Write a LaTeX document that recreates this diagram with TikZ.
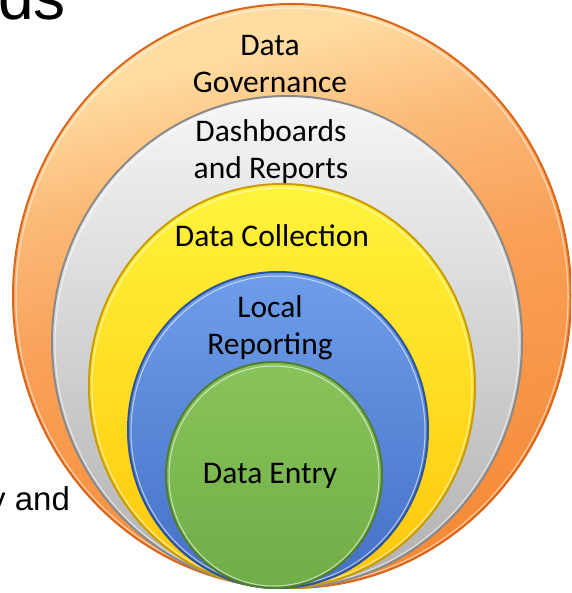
\documentclass[tikz,border=0pt]{standalone}
\usepackage{fontspec}
\setmainfont{Carlito}
\newfontfamily\slidefont{Liberation Sans}
\definecolor{orgA}{HTML}{FFDDA2}
\definecolor{orgL}{HTML}{FBBA78}
\definecolor{orgM}{HTML}{F9A058}
\definecolor{orgB}{HTML}{F68A36}
\definecolor{orgC}{HTML}{D9661B}
\definecolor{gryA}{HTML}{F6F6F6}
\definecolor{gryB}{HTML}{B0B0B0}
\definecolor{gryC}{HTML}{8A8A8A}
\definecolor{ylwA}{HTML}{FFF43C}
\definecolor{ylwB}{HTML}{FFC60A}
\definecolor{ylwC}{HTML}{C99C00}
\definecolor{bluA}{HTML}{6E9EEA}
\definecolor{bluB}{HTML}{4470C6}
\definecolor{bluC}{HTML}{2F5597}
\definecolor{grnA}{HTML}{88C45A}
\definecolor{grnB}{HTML}{70AD47}
\definecolor{grnC}{HTML}{507E32}
\pgfdeclareverticalshading{orgfade}{100bp}{color(0bp)=(orgB); color(25bp)=(orgB); color(50bp)=(orgM); color(62bp)=(orgL); color(72bp)=(orgA); color(100bp)=(orgA)}
\tikzset{
  ring/.style={line width=2pt},
  glow/.style={draw=white, opacity=0.6, line width=1pt},
  lbl/.style={font=\fontsize{31.5}{37}\selectfont, align=center, inner sep=0pt}
}
\begin{document}
\begin{tikzpicture}[x=1pt,y=-1pt]
\useasboundingbox (0,0) rectangle (571,593);
\clip (0,0) rectangle (571,593);
\node[font=\slidefont\fontsize{64}{68}\selectfont, anchor=base west, inner sep=0pt] (title) at (-2,20) {ds};
\node[font=\slidefont\fontsize{33}{36}\selectfont, anchor=base west, inner sep=0pt] (body) at (-11,510) {y and};

\filldraw[ring, draw=orgC, shading=orgfade, shading angle=15] (292,296) ellipse [x radius=279pt, y radius=292pt];
\draw[glow] (292,297) ellipse [x radius=276pt, y radius=289pt];
\filldraw[ring, draw=gryC, top color=gryA, bottom color=gryB] (287,342) ellipse [x radius=235pt, y radius=246pt];
\draw[glow] (287,343) ellipse [x radius=232pt, y radius=243pt];
\filldraw[ring, draw=ylwC, top color=ylwA, bottom color=ylwB] (282,386) ellipse [x radius=193pt, y radius=202pt];
\draw[glow] (282,387) ellipse [x radius=190pt, y radius=199pt];
\filldraw[ring, draw=bluC, top color=bluA, bottom color=bluB] (278,430) ellipse [x radius=150pt, y radius=158pt];
\draw[glow] (278,431) ellipse [x radius=147pt, y radius=155pt];
\filldraw[ring, draw=grnC, top color=grnA, bottom color=grnB] (274,475) ellipse [x radius=108pt, y radius=113pt];
\draw[glow] (274,476) ellipse [x radius=105pt, y radius=110pt];

\node[lbl] (gov) at (270,64) {Data\\Governance};
\node[lbl] (dash) at (271,152) {Dashboards\\and Reports};
\node[lbl, anchor=base] (coll) at (272,247) {Data Collection};
\node[lbl] (local) at (270,328) {Local\\Reporting};
\node[lbl, anchor=base] (entry) at (270,483) {Data Entry};
\end{tikzpicture}
\end{document}
